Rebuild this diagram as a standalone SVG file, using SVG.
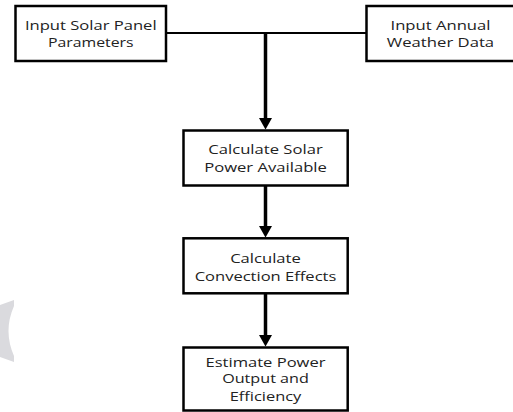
<svg xmlns="http://www.w3.org/2000/svg" width="513" height="412" viewBox="0 0 513 412">
<defs>
<style>
.box{fill:#fff;stroke:#000;stroke-width:2.5}
.t{font-family:"Open Sans","Liberation Sans",sans-serif;font-size:13px;fill:#222;text-anchor:middle}
.ln{stroke:#000;fill:none}
.ah{fill:#000}
</style>
</defs>
<rect width="513" height="412" fill="#fff"/>
<path d="M0,305 L14,300 L14,306 Q3,331 14,356 L14,362 L0,357 Z" fill="#dadade"/>
<g id="connectors">
<line class="ln" x1="166" y1="33" x2="367" y2="33" stroke-width="2"/>
<line class="ln" x1="265.5" y1="33" x2="265.5" y2="119" stroke-width="3.5"/>
<polygon class="ah" points="259,118 272,118 265.5,129.5"/>
<line class="ln" x1="265.5" y1="186" x2="265.5" y2="227" stroke-width="3.5"/>
<polygon class="ah" points="259,226 272,226 265.5,237.5"/>
<line class="ln" x1="265.5" y1="294" x2="265.5" y2="336" stroke-width="3.5"/>
<polygon class="ah" points="259,335 272,335 265.5,346.5"/>
</g>
<g id="n1">
<rect class="box" x="15.5" y="6" width="150.5" height="55"/>
<text class="t" x="90.8" y="29.5" textLength="131.7" lengthAdjust="spacingAndGlyphs">Input Solar Panel</text>
<text class="t" x="90.8" y="46.5" textLength="85.7" lengthAdjust="spacingAndGlyphs">Parameters</text>
</g>
<g id="n2">
<rect class="box" x="366.5" y="6" width="148" height="55"/>
<text class="t" x="440.5" y="29.5" textLength="100" lengthAdjust="spacingAndGlyphs">Input Annual</text>
<text class="t" x="440.5" y="46.5" textLength="107.3" lengthAdjust="spacingAndGlyphs">Weather Data</text>
</g>
<g id="n3">
<rect class="box" x="183.5" y="130.5" width="164.2" height="55"/>
<text class="t" x="265.5" y="154" textLength="114.4" lengthAdjust="spacingAndGlyphs">Calculate Solar</text>
<text class="t" x="265.5" y="171.5" textLength="122.7" lengthAdjust="spacingAndGlyphs">Power Available</text>
</g>
<g id="n4">
<rect class="box" x="183.5" y="238.3" width="164.2" height="55"/>
<text class="t" x="265.5" y="263.3" textLength="70.7" lengthAdjust="spacingAndGlyphs">Calculate</text>
<text class="t" x="265.5" y="280.5" textLength="141.7" lengthAdjust="spacingAndGlyphs">Convection Effects</text>
</g>
<g id="n5">
<rect class="box" x="183.5" y="347.5" width="164.2" height="63"/>
<text class="t" x="265.5" y="366.5" textLength="120" lengthAdjust="spacingAndGlyphs">Estimate Power</text>
<text class="t" x="265.5" y="383.3" textLength="86.7" lengthAdjust="spacingAndGlyphs">Output and</text>
<text class="t" x="265.5" y="400.5" textLength="71.7" lengthAdjust="spacingAndGlyphs">Efficiency</text>
</g>
</svg>
